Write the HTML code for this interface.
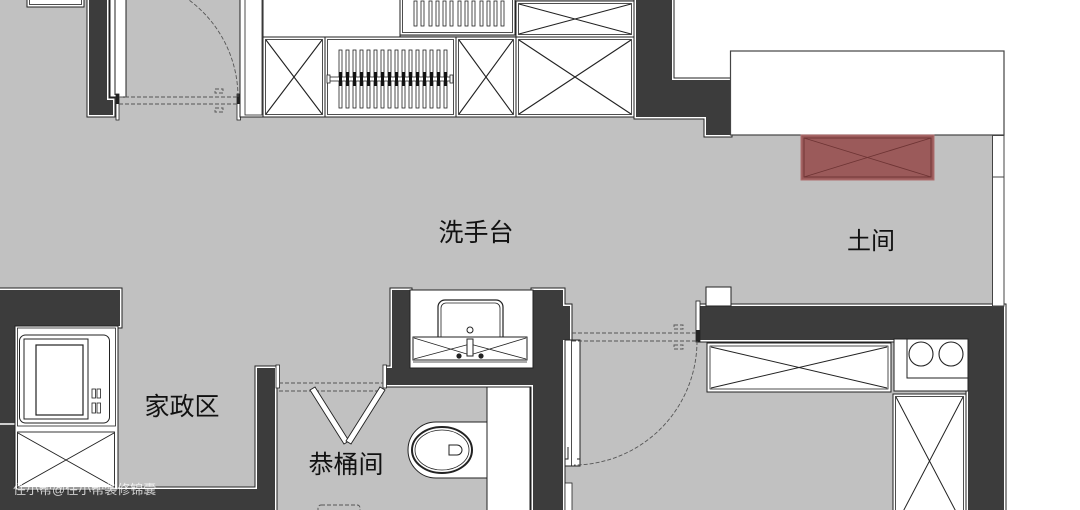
<!DOCTYPE html>
<html><head><meta charset="utf-8"><style>
html,body{margin:0;padding:0;background:#fff;}
svg{display:block;}
text{font-family:"Liberation Sans","Noto Sans CJK SC",sans-serif;}
</style></head><body>
<svg width="1080" height="510" viewBox="0 0 1080 510" xmlns="http://www.w3.org/2000/svg">
<rect x="0" y="0" width="1080" height="510" fill="#fff"/>
<!-- floor -->
<rect x="0" y="0" width="1004" height="510" fill="#c1c1c1"/>
<rect x="672" y="0" width="408" height="80" fill="#fff"/>
<rect x="730" y="0" width="350" height="135" fill="#fff"/>
<rect x="1004" y="0" width="76" height="510" fill="#fff"/>

<g stroke-linejoin="miter">
<g fill="none" stroke="#222" stroke-width="5">
<polygon points="89,-5 107,-5 107,100 113,100 113,115 89,115"/>
<polygon points="636,-5 672,-5 672,80 730,80 730,135 706,135 706,117 636,117"/>
<polygon points="-5,290 120,290 120,326 15,326 15,489 257,489 257,368 275,368 275,515 -5,515"/>
<polygon points="392,290 410,290 410,368 533,368 533,290 563,290 563,306 570,306 570,340 563,340 563,515 533,515 533,385 386,385 386,368 392,368"/>
<polygon points="700,306 1004,306 1004,515 968,515 968,340 700,340"/>
</g>
<g fill="none" stroke="#fff" stroke-width="3">
<polygon points="89,-5 107,-5 107,100 113,100 113,115 89,115"/>
<polygon points="636,-5 672,-5 672,80 730,80 730,135 706,135 706,117 636,117"/>
<polygon points="-5,290 120,290 120,326 15,326 15,489 257,489 257,368 275,368 275,515 -5,515"/>
<polygon points="392,290 410,290 410,368 533,368 533,290 563,290 563,306 570,306 570,340 563,340 563,515 533,515 533,385 386,385 386,368 392,368"/>
<polygon points="700,306 1004,306 1004,515 968,515 968,340 700,340"/>
</g>
<g fill="#3c3c3c" stroke="none">
<polygon points="89,-5 107,-5 107,100 113,100 113,115 89,115"/>
<polygon points="636,-5 672,-5 672,80 730,80 730,135 706,135 706,117 636,117"/>
<polygon points="-5,290 120,290 120,326 15,326 15,489 257,489 257,368 275,368 275,515 -5,515"/>
<polygon points="392,290 410,290 410,368 533,368 533,290 563,290 563,306 570,306 570,340 563,340 563,515 533,515 533,385 386,385 386,368 392,368"/>
<polygon points="700,306 1004,306 1004,515 968,515 968,340 700,340"/>
</g>
</g>
<line x1="0" y1="424" x2="15" y2="424" stroke="#fff" stroke-width="1.5"/>

<!-- top-left -->
<rect x="27" y="-3" width="57" height="10" fill="#fff" stroke="#222"/>
<rect x="29.5" y="-3" width="52" height="7.5" fill="none" stroke="#222" stroke-width="0.8"/>
<rect x="110" y="-2" width="16" height="99" fill="#fff" stroke="#222"/>
<line x1="115" y1="-2" x2="115" y2="95" stroke="#222"/>
<rect x="116" y="94" width="3" height="26" fill="#fff" stroke="#222" stroke-width="0.8"/>
<rect x="116" y="94" width="3" height="10" fill="#222"/>
<rect x="237" y="94" width="3.5" height="26" fill="#fff" stroke="#222" stroke-width="0.8"/>
<rect x="237" y="94" width="3.5" height="10" fill="#222"/>
<g stroke="#555" stroke-width="0.9" stroke-dasharray="4,2" fill="none">
<line x1="119" y1="97" x2="237" y2="97"/>
<line x1="119" y1="104" x2="237" y2="104"/>
<path d="M238,97 A121,121 0 0 0 189,0"/>
<path d="M215,89 h8 v4 h-8 z M215,108 h8 v4 h-8 z"/>
</g>

<!-- top cabinets -->
<rect x="240" y="-2" width="23" height="119" fill="#fff" stroke="#222"/>
<rect x="245" y="-2" width="17" height="117" fill="none" stroke="#222" stroke-width="0.8"/>
<rect x="263" y="-2" width="137" height="39" fill="#fff" stroke="#222"/>
<rect x="400" y="-2" width="115" height="37" fill="#fff" stroke="#222"/>
<rect x="402.5" y="-2" width="110" height="34.5" fill="none" stroke="#222" stroke-width="0.8"/>
<g fill="#fff" stroke="#222" stroke-width="0.8">
<rect x="414" y="1" width="3" height="25"/><rect x="421" y="1" width="3" height="25"/><rect x="429" y="1" width="3" height="25"/><rect x="436" y="1" width="3" height="25"/><rect x="443" y="1" width="3" height="25"/><rect x="450" y="1" width="3" height="25"/><rect x="458" y="1" width="3" height="25"/><rect x="465" y="1" width="3" height="25"/><rect x="472" y="1" width="3" height="25"/><rect x="480" y="1" width="3" height="25"/><rect x="487" y="1" width="3" height="25"/><rect x="494" y="1" width="3" height="25"/><rect x="501" y="1" width="3" height="25"/>
</g>
<rect x="516" y="1" width="118" height="36" fill="#fff" stroke="#222"/>
<rect x="518.5" y="3.5" width="113" height="31" fill="none" stroke="#222" stroke-width="0.8"/>
<path d="M519,4 L631,34 M631,4 L519,34" stroke="#222" stroke-width="1"/>

<g fill="#fff" stroke="#222">
<rect x="263" y="37" width="62" height="80"/>
<rect x="325" y="37" width="131" height="80"/>
<rect x="456" y="37" width="60" height="80"/>
<rect x="516" y="37" width="118" height="80"/>
</g>
<g fill="none" stroke="#222" stroke-width="0.8">
<rect x="265.5" y="39.5" width="57" height="75"/>
<rect x="327.5" y="39.5" width="126" height="75"/>
<rect x="458.5" y="39.5" width="55" height="75"/>
<rect x="518.5" y="39.5" width="113" height="75"/>
</g>
<path d="M266,40 L322,114 M322,40 L266,114 M459,40 L513,114 M513,40 L459,114 M519,40 L631,114 M631,40 L519,114" stroke="#222" stroke-width="1.1"/>
<g fill="#fff" stroke="#222" stroke-width="0.8">
<rect x="339" y="50" width="3" height="58"/><rect x="346" y="50" width="3" height="58"/><rect x="353" y="50" width="3" height="58"/><rect x="360" y="50" width="3" height="58"/><rect x="367" y="50" width="3" height="58"/><rect x="374" y="50" width="3" height="58"/><rect x="381" y="50" width="3" height="58"/><rect x="388" y="50" width="3" height="58"/><rect x="395" y="50" width="3" height="58"/><rect x="402" y="50" width="3" height="58"/><rect x="409" y="50" width="3" height="58"/><rect x="416" y="50" width="3" height="58"/><rect x="423" y="50" width="3" height="58"/><rect x="430" y="50" width="3" height="58"/><rect x="437" y="50" width="3" height="58"/><rect x="444" y="50" width="3" height="58"/>
<rect x="329" y="77" width="122" height="4"/>
<rect x="327" y="75" width="3" height="8"/><rect x="450" y="75" width="3" height="8"/>
</g>
<g fill="#111">
<rect x="339" y="72" width="3" height="14"/><rect x="346" y="72" width="3" height="14"/><rect x="353" y="72" width="3" height="14"/><rect x="360" y="72" width="3" height="14"/><rect x="367" y="72" width="3" height="14"/><rect x="374" y="72" width="3" height="14"/><rect x="381" y="72" width="3" height="14"/><rect x="388" y="72" width="3" height="14"/><rect x="395" y="72" width="3" height="14"/><rect x="402" y="72" width="3" height="14"/><rect x="409" y="72" width="3" height="14"/><rect x="416" y="72" width="3" height="14"/><rect x="423" y="72" width="3" height="14"/><rect x="430" y="72" width="3" height="14"/><rect x="437" y="72" width="3" height="14"/><rect x="444" y="72" width="3" height="14"/>
</g>

<!-- top right -->
<rect x="730.5" y="51" width="273.5" height="84" fill="#fff" stroke="#444" stroke-width="1.2"/>
<rect x="801" y="135" width="133" height="45" fill="#9b5a5a" stroke="#b07070" stroke-width="1"/>
<rect x="804" y="138" width="127" height="39" fill="none" stroke="#6e3434" stroke-width="0.9"/>
<path d="M804,138 L931,177 M931,138 L804,177" stroke="#6e3434" stroke-width="0.9"/>
<rect x="992.5" y="135.5" width="11.5" height="41.5" fill="#fff" stroke="#444"/>
<rect x="992.5" y="177" width="11.5" height="129" fill="#fff" stroke="#444"/>

<!-- left cabinet column -->
<rect x="15" y="326" width="103" height="164" fill="#fff" stroke="#222"/>
<rect x="17.5" y="328" width="98" height="98" fill="none" stroke="#222" stroke-width="0.8"/>
<rect x="19.5" y="335" width="90" height="88" rx="6" fill="#fff" stroke="#222" stroke-width="1"/>
<rect x="24" y="339" width="64" height="80" fill="none" stroke="#222" stroke-width="1"/>
<rect x="36" y="345" width="47" height="70" fill="#fff" stroke="#222" stroke-width="1.2"/>
<g fill="#fff" stroke="#222" stroke-width="0.8">
<rect x="92" y="389" width="3.5" height="9"/><rect x="97" y="389" width="3.5" height="9"/>
<rect x="92" y="403" width="3.5" height="10"/><rect x="97" y="403" width="3.5" height="10"/>
</g>
<rect x="17.5" y="432" width="97" height="56" fill="#fff" stroke="#222" stroke-width="0.9"/>
<path d="M18,433 L114,487 M114,433 L18,487" stroke="#222" stroke-width="1"/>

<!-- sink room -->
<rect x="410" y="290" width="123" height="78" fill="#fff" stroke="#222"/>
<rect x="438" y="300" width="65" height="50" rx="7" fill="#fff" stroke="#222" stroke-width="1.2"/>
<rect x="441" y="303" width="59" height="44" rx="5" fill="none" stroke="#222" stroke-width="0.8"/>
<rect x="413" y="337" width="114" height="23" fill="#fff" stroke="#222" stroke-width="1"/>
<path d="M414,338 L470,355 L526,338 M414,359 L470,344 L526,359" stroke="#222" stroke-width="0.8" fill="none"/>
<line x1="413" y1="362" x2="527" y2="362" stroke="#222" stroke-width="0.8"/>
<circle cx="470" cy="330" r="3" fill="#fff" stroke="#222"/>
<rect x="467" y="339" width="6" height="17" fill="#fff" stroke="#222"/>
<circle cx="459" cy="356" r="2.6" fill="#222"/>
<circle cx="481" cy="356" r="2.6" fill="#222"/>

<!-- toilet room -->
<rect x="487" y="387" width="43" height="125" fill="#fff" stroke="#222"/>
<path d="M487,422 L436,422 A28,28 0 0 0 436,478 L487,478 Z" fill="#fff" stroke="#222" stroke-width="1"/>
<ellipse cx="442" cy="450" rx="30" ry="23" fill="#fff" stroke="#222" stroke-width="2"/>
<ellipse cx="442" cy="450" rx="27" ry="20" fill="none" stroke="#222" stroke-width="0.8"/>
<path d="M449,445 L457,445 A5,5 0 0 1 457,455 L449,455 Z" fill="#fff" stroke="#222" stroke-width="1"/>
<rect x="276" y="365" width="3.5" height="23" fill="#fff" stroke="#222" stroke-width="0.8"/>
<rect x="383" y="365" width="3.5" height="23" fill="#fff" stroke="#222" stroke-width="0.8"/>
<g stroke="#555" stroke-width="0.9" stroke-dasharray="4,2" fill="none">
<line x1="279" y1="383" x2="383" y2="383"/>
<line x1="279" y1="391" x2="383" y2="391"/>
<rect x="318" y="505" width="42" height="10" rx="3"/>
</g>
<polygon points="310,390 315,387 349,441 344,444" fill="#fff" stroke="#222" stroke-width="0.9"/>
<polygon points="380,387 385,390 351,444 346,441" fill="#fff" stroke="#222" stroke-width="0.9"/>

<!-- kitchen door -->
<rect x="565" y="340" width="15" height="126" fill="#fff" stroke="#222"/>
<line x1="571.5" y1="340" x2="571.5" y2="466" stroke="#222" stroke-width="0.8"/>
<path d="M565,443 v16 h3 v-12 M580,443 v16 h-3" stroke="#222" stroke-width="1" fill="none"/>
<rect x="565" y="483" width="7" height="30" fill="#fff" stroke="#222" stroke-width="0.8"/>
<rect x="696" y="301" width="4" height="41" fill="#fff" stroke="#222" stroke-width="0.8"/>
<rect x="696" y="330" width="4" height="12" fill="#222"/>
<rect x="706" y="287" width="25" height="19" fill="#fff" stroke="#222"/>
<g stroke="#555" stroke-width="0.9" stroke-dasharray="4,2" fill="none">
<line x1="572" y1="333" x2="696" y2="333"/>
<line x1="572" y1="341" x2="696" y2="341"/>
<path d="M697,341 A124,124 0 0 1 574,465"/>
<path d="M674,325 h9 v4 h-9 z M674,345 h9 v4 h-9 z"/>
</g>

<!-- kitchen cabinets -->
<rect x="707" y="343" width="184" height="49" fill="#fff" stroke="#222"/>
<rect x="710" y="346" width="178" height="43" fill="none" stroke="#222" stroke-width="0.8"/>
<path d="M711,347 L887,388 M887,347 L711,388" stroke="#222" stroke-width="1"/>
<rect x="894" y="339" width="74" height="52" fill="#fff" stroke="#222"/>
<path d="M907,339 L907,378 L968,378" stroke="#222" fill="none"/>
<circle cx="921" cy="354" r="12" fill="none" stroke="#222" stroke-width="1.1"/>
<circle cx="951" cy="354" r="12" fill="none" stroke="#222" stroke-width="1.1"/>
<rect x="893" y="394" width="73" height="120" fill="#fff" stroke="#222"/>
<rect x="895.5" y="396.5" width="68" height="116" fill="none" stroke="#222" stroke-width="0.8"/>
<path d="M896,397 L963,525 M963,397 L896,525" stroke="#222" stroke-width="1"/>

<!-- labels -->
<text x="476" y="241" font-size="25" text-anchor="middle" fill="#111">洗手台</text>
<text x="871" y="249" font-size="24" text-anchor="middle" fill="#111">土间</text>
<text x="182" y="415" font-size="25" text-anchor="middle" fill="#111">家政区</text>
<text x="346" y="473" font-size="25" text-anchor="middle" fill="#111">恭桶间</text>
<text x="13" y="494" font-size="13" fill="#fff" fill-opacity="0.75">住小帮@住小帮装修锦囊</text>
</svg>
</body></html>
